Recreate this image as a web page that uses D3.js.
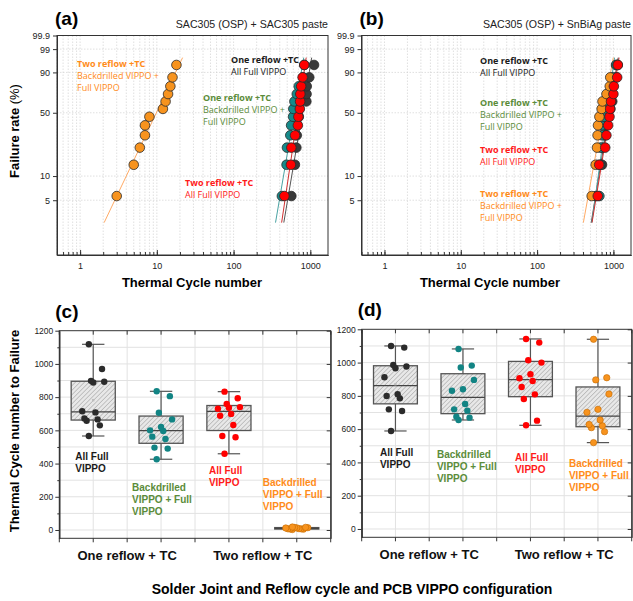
<!DOCTYPE html>
<html>
<head>
<meta charset="utf-8">
<script src="https://cdn.jsdelivr.net/npm/d3@7"></script>
<style>
  body { margin: 0; background: #fff; }
  svg text { font-family: "Liberation Sans", Arial, sans-serif; }
  .note { font-family: "Open Sans", sans-serif; font-size: 9px; }
</style>
</head>
<body>
<svg id="chart" width="633" height="601"></svg>
<script>
// ---------- data ----------
const groups = ['One reflow + TC', 'Two reflow + TC'];

// cycles to failure, SAC305 (OSP) + SAC305 paste -> panels (a) and (c)
const sacOneFull = [566, 630, 658, 666, 672, 708, 715, 888, 893, 898, 969, 1118];
const sacOneBack = [426, 490, 496, 548, 562, 596, 600, 620, 666, 706, 806, 835];
const sacTwoFull = [459, 558, 566, 632, 688, 699, 730, 736, 740, 759, 793, 833];
const sacTwoBack = [3, 5, 6, 7, 7, 8, 12, 13, 14, 15, 16, 18];

// cycles to failure, SAC305 (OSP) + SnBiAg paste -> panels (b) and (d)
const snOneFull = [589, 709, 719, 785, 799, 810, 912, 966, 976, 986, 1090, 1100];
const snOneBack = [655, 669, 675, 711, 719, 751, 831, 840, 896, 970, 982, 1082];
const snTwoFull = [623, 651, 781, 809, 853, 889, 906, 930, 1000, 1014, 1120, 1142];
const snTwoBack = [519, 585, 609, 620, 628, 655, 701, 719, 811, 896, 909, 1140];

const rateTicks = [5, 10, 50, 90, 99, 99.9];
const cycleTicks = [1, 10, 100, 1000];
const countTicks = [0, 200, 400, 600, 800, 1000, 1200];

// ---------- styles ----------
const look = {
  oneFull: { fill: '#3a3a3a', dot: '#2b2b2b', line: '#555555', text: '#1a1a1a' },
  oneBack: { fill: '#168a8a', dot: '#128484', line: '#4aa3a3', text: '#5b8c3a' },
  twoFull: { fill: '#ff0000', dot: '#ff0000', line: '#d03030', text: '#ff1a1a' },
  twoBack: { fill: '#f7931e', dot: '#f7931e', line: '#ffab66', text: '#ff8c1a' }
};

const sacSeries = [
  { key: 'oneFull', group: groups[0], values: sacOneFull },
  { key: 'oneBack', group: groups[0], values: sacOneBack },
  { key: 'twoFull', group: groups[1], values: sacTwoFull },
  { key: 'twoBack', group: groups[1], values: sacTwoBack }
];
const snSeries = [
  { key: 'oneFull', group: groups[0], values: snOneFull },
  { key: 'oneBack', group: groups[0], values: snOneBack },
  { key: 'twoFull', group: groups[1], values: snTwoFull },
  { key: 'twoBack', group: groups[1], values: snTwoBack }
];

const svg = d3.select('#chart');
const defs = svg.append('defs');

// hatch for the boxes
const hatch = defs.append('pattern')
  .attr('id', 'hatch')
  .attr('patternUnits', 'userSpaceOnUse')
  .attr('width', 3.2).attr('height', 3.2)
  .attr('patternTransform', 'rotate(45)');
hatch.append('rect').attr('width', 3.2).attr('height', 3.2).attr('fill', '#e8e8e8');
hatch.append('line')
  .attr('x1', 0).attr('y1', 0).attr('x2', 0).attr('y2', 3.2)
  .attr('stroke', '#939393').attr('stroke-width', 0.9);

const wb = p => Math.log(-Math.log(1 - p / 100));

function styleAxis(sel, size) {
  sel.select('.domain').attr('stroke', '#333').attr('stroke-width', 1);
  sel.selectAll('.tick line').attr('stroke', '#333');
  sel.selectAll('.tick text').attr('fill', '#222').attr('font-size', size);
}

// ---------- Weibull panels ----------
function weibullPanel(b, series, subtitle, letter, notes, titleX) {
  const x = d3.scaleLog().domain([0.5, 1700]).range([b.left, b.right]);
  const y = d3.scaleLinear().domain([wb(1), wb(99.9)]).range([b.bottom, b.top]);
  const g = svg.append('g');

  defs.append('clipPath').attr('id', 'clip' + letter)
    .append('rect')
    .attr('x', b.left).attr('y', b.top)
    .attr('width', b.right - b.left).attr('height', b.bottom - b.top);

  const minor = [];
  for (let k = -1; k <= 3; k++) {
    for (let m = 1; m <= 9; m++) {
      const v = m * Math.pow(10, k);
      if (v >= 0.5 && v <= 1700) minor.push(v);
    }
  }

  // grid
  g.append('g').selectAll('line').data(minor).join('line')
    .attr('x1', d => x(d)).attr('x2', d => x(d))
    .attr('y1', b.top).attr('y2', b.bottom)
    .attr('stroke', '#d2d2d2').attr('stroke-width', 0.7)
    .attr('stroke-dasharray', '1.5,1.5');
  g.append('g').selectAll('line').data(rateTicks.slice(0, -1)).join('line')
    .attr('x1', b.left).attr('x2', b.right)
    .attr('y1', d => y(wb(d))).attr('y2', d => y(wb(d)))
    .attr('stroke', '#d2d2d2').attr('stroke-width', 0.7)
    .attr('stroke-dasharray', '1.5,1.5');

  // axes
  const xMinor = g.append('g').attr('transform', `translate(0,${b.bottom})`)
    .call(d3.axisBottom(x).tickValues(minor).tickSizeInner(-3).tickSizeOuter(0).tickFormat(''));
  styleAxis(xMinor, 9);
  const xMajor = g.append('g').attr('transform', `translate(0,${b.bottom})`)
    .call(d3.axisBottom(x).tickValues(cycleTicks).tickSizeInner(-5).tickSizeOuter(0)
      .tickPadding(8).tickFormat(d3.format('d')));
  styleAxis(xMajor, 9);

  const yAx = g.append('g').attr('transform', `translate(${b.left},0)`)
    .call(d3.axisLeft(y).tickValues(rateTicks.map(wb)).tickSizeInner(4).tickSizeOuter(0)
      .tickPadding(3).tickFormat((d, i) => rateTicks[i]));
  styleAxis(yAx, 9);

  g.append('rect')
    .attr('x', b.left).attr('y', b.top)
    .attr('width', b.right - b.left).attr('height', b.bottom - b.top)
    .attr('fill', 'none').attr('stroke', '#333').attr('stroke-width', 1);

  // fit lines (median rank regression of ln t on ln(-ln(1-F)))
  const lines = g.append('g').attr('clip-path', `url(#clip${letter})`);
  const pts = g.append('g');
  series.forEach(s => {
    const v = s.values.slice().sort(d3.ascending);
    const n = v.length;
    const rows = v.map((t, i) => ({ t, w: Math.log(-Math.log(1 - (i + 0.7) / (n + 0.4))) }));
    const mw = d3.mean(rows, r => r.w);
    const mt = d3.mean(rows, r => Math.log(r.t));
    const slope = d3.sum(rows, r => (r.w - mw) * (Math.log(r.t) - mt)) / d3.sum(rows, r => (r.w - mw) ** 2);
    const ends = [2.6, 97.2].map(p => ({ w: wb(p), t: Math.exp(mt + slope * (wb(p) - mw)) }));
    lines.append('line')
      .attr('x1', x(ends[0].t)).attr('y1', y(ends[0].w))
      .attr('x2', x(ends[1].t)).attr('y2', y(ends[1].w))
      .attr('stroke', look[s.key].line).attr('stroke-width', 1);
    s.rows = rows;
  });
  ['oneFull', 'oneBack', 'twoBack', 'twoFull'].forEach(k => {
    const s = series.find(d => d.key === k);
    pts.append('g').selectAll('circle').data(s.rows).join('circle')
      .attr('cx', d => x(d.t)).attr('cy', d => y(d.w)).attr('r', 4.8)
      .attr('fill', look[k].fill).attr('stroke', '#2a2a2a').attr('stroke-width', 0.8);
  });

  // titles
  svg.append('text').attr('x', b.left - 2).attr('y', b.top - 11)
    .attr('font-size', 19).attr('font-weight', 'bold').text(`(${letter})`);
  svg.append('text').attr('x', b.right).attr('y', 28).attr('text-anchor', 'end')
    .attr('font-size', 10.6).attr('fill', '#222').text(subtitle);
  svg.append('text').attr('x', titleX).attr('y', 287).attr('text-anchor', 'middle')
    .attr('font-size', 13).attr('font-weight', 'bold').text('Thermal Cycle number');

  notes.forEach(nt => {
    const t = svg.append('text').attr('class', 'note').attr('fill', look[nt.key].text);
    nt.lines.forEach((ln, i) => {
      t.append('tspan').attr('x', nt.x).attr('y', nt.y + i * 12)
        .attr('font-weight', i === 0 ? 700 : 400).text(ln);
    });
  });
}

// ---------- box panels ----------
function boxPanel(b, series, letter, notes) {
  const y = d3.scaleLinear().domain([-50, 1200]).range([b.bottom, b.top]);
  const x = d3.scaleBand().domain(series.map(s => s.key)).range([b.left, b.right]);
  const grp = d3.scaleBand().domain(groups).range([b.left, b.right]);
  const bw = x.bandwidth();
  const g = svg.append('g');

  const vlines = [];
  series.forEach(s => { vlines.push(x(s.key)); vlines.push(x(s.key) + bw / 2); });
  vlines.push(b.right);
  const hlines = d3.range(0, 1200, 100);

  g.append('g').selectAll('line').data(hlines).join('line')
    .attr('x1', b.left).attr('x2', b.right)
    .attr('y1', d => y(d)).attr('y2', d => y(d))
    .attr('stroke', '#e2e2e2').attr('stroke-width', 1);
  g.append('g').selectAll('line').data(vlines).join('line')
    .attr('x1', d => d).attr('x2', d => d)
    .attr('y1', b.top).attr('y2', b.bottom)
    .attr('stroke', '#e2e2e2').attr('stroke-width', 1);

  // axes
  const yAx = g.append('g').attr('transform', `translate(${b.left},0)`)
    .call(d3.axisLeft(y).tickValues(countTicks).tickSizeInner(4).tickSizeOuter(0)
      .tickPadding(2).tickFormat(d3.format('d')));
  styleAxis(yAx, 8.5);
  const yMin = g.append('g').attr('transform', `translate(${b.left},0)`)
    .call(d3.axisLeft(y).tickValues(d3.range(100, 1200, 200)).tickSizeInner(2).tickSizeOuter(0).tickFormat(''));
  styleAxis(yMin, 8.5);
  const yR = g.append('g').attr('transform', `translate(${b.right},0)`)
    .call(d3.axisRight(y).tickValues(countTicks).tickSizeInner(-4).tickSizeOuter(0).tickFormat(''));
  styleAxis(yR, 8.5);
  g.append('g').selectAll('line').data(vlines).join('line')
    .attr('x1', d => d).attr('x2', d => d)
    .attr('y1', b.bottom).attr('y2', b.bottom + 4).attr('stroke', '#333');
  g.append('g').selectAll('line').data(vlines).join('line')
    .attr('x1', d => d).attr('x2', d => d)
    .attr('y1', b.top).attr('y2', b.top + 4).attr('stroke', '#333');

  const xAx = g.append('g').attr('transform', `translate(0,${b.bottom})`)
    .call(d3.axisBottom(grp).tickSize(0).tickPadding(12));
  xAx.select('.domain').remove();
  xAx.selectAll('.tick text').attr('font-size', 13).attr('font-weight', 'bold').attr('fill', '#111');

  g.append('rect')
    .attr('x', b.left).attr('y', b.top)
    .attr('width', b.right - b.left).attr('height', b.bottom - b.top)
    .attr('fill', 'none').attr('stroke', '#333').attr('stroke-width', 1);

  // boxes
  series.forEach(s => {
    const v = s.values.slice().sort(d3.ascending);
    const n = v.length;
    const q1 = d3.median(v.slice(0, Math.floor(n / 2)));
    const q3 = d3.median(v.slice(Math.ceil(n / 2)));
    const med = d3.median(v);
    const cx = x(s.key) + bw / 2;
    const boxW = bw * 0.65;
    const capW = bw * 0.33;
    const bg = g.append('g');
    bg.append('line').attr('x1', cx).attr('x2', cx).attr('y1', y(v[n - 1])).attr('y2', y(v[0]))
      .attr('stroke', '#555').attr('stroke-width', 1.2);
    [v[0], v[n - 1]].forEach(w => {
      bg.append('line').attr('x1', cx - capW / 2).attr('x2', cx + capW / 2)
        .attr('y1', y(w)).attr('y2', y(w)).attr('stroke', '#555').attr('stroke-width', 1.2);
    });
    bg.append('rect').attr('x', cx - boxW / 2).attr('width', boxW)
      .attr('y', y(q3)).attr('height', Math.max(y(q1) - y(q3), 1.5))
      .attr('fill', 'url(#hatch)').attr('stroke', '#555').attr('stroke-width', 1.3);
    bg.append('line').attr('x1', cx - boxW / 2).attr('x2', cx + boxW / 2)
      .attr('y1', y(med)).attr('y2', y(med)).attr('stroke', '#444').attr('stroke-width', 1.2);
    bg.append('rect').attr('x', cx - 1.2).attr('y', y(d3.mean(v)) - 1.2)
      .attr('width', 2.4).attr('height', 2.4).attr('fill', '#bdbdbd');

    bg.append('g').selectAll('circle').data(s.values).join('circle')
      .attr('cx', (d, i) => cx + (((i * 5 + 3) % 11) / 10 - 0.5) * 22)
      .attr('cy', d => y(d)).attr('r', 3.2)
      .attr('fill', look[s.key].dot)
      .attr('stroke', s.key === 'twoBack' ? '#c46a00' : 'none').attr('stroke-width', 0.6);
  });

  svg.append('text').attr('x', b.left - 4).attr('y', b.top - 13)
    .attr('font-size', 19).attr('font-weight', 'bold').text(`(${letter})`);

  notes.forEach(nt => {
    const t = svg.append('text').attr('font-size', 10).attr('font-weight', 'bold')
      .attr('fill', look[nt.key].text);
    nt.lines.forEach((ln, i) => {
      t.append('tspan').attr('x', x(nt.key) + bw / 2 + nt.dx).attr('y', y(nt.v) + i * 12).text(ln);
    });
  });
}

weibullPanel({ left: 57, right: 328, top: 35.5, bottom: 255 }, sacSeries,
  'SAC305 (OSP) + SAC305 paste', 'a', [
    { key: 'twoBack', lines: ['Two reflow +TC', 'Backdrilled VIPPO +', 'Full VIPPO'], x: 77, y: 67 },
    { key: 'oneFull', lines: ['One reflow +TC', 'All Full VIPPO'], x: 231, y: 63 },
    { key: 'oneBack', lines: ['One reflow +TC', 'Backdrilled VIPPO +', 'Full VIPPO'], x: 203, y: 101 },
    { key: 'twoFull', lines: ['Two reflow +TC', 'All Full VIPPO'], x: 185, y: 186 }
  ], 192);

weibullPanel({ left: 361.5, right: 631, top: 35.5, bottom: 255 }, snSeries,
  'SAC305 (OSP) + SnBiAg paste', 'b', [
    { key: 'oneFull', lines: ['One reflow +TC', 'All Full VIPPO'], x: 480, y: 64 },
    { key: 'oneBack', lines: ['One reflow +TC', 'Backdrilled VIPPO +', 'Full VIPPO'], x: 480, y: 106 },
    { key: 'twoFull', lines: ['Two reflow +TC', 'All Full VIPPO'], x: 480, y: 153 },
    { key: 'twoBack', lines: ['Two reflow +TC', 'Backdrilled VIPPO +', 'Full VIPPO'], x: 480, y: 197 }
  ], 490);

boxPanel({ left: 59.3, right: 330.7, top: 330.7, bottom: 538.3 }, sacSeries, 'c', [
  { key: 'oneFull', dx: -18, v: 421, lines: ['All Full', 'VIPPO'] },
  { key: 'oneBack', dx: -29, v: 235, lines: ['Backdrilled', 'VIPPO + Full', 'VIPPO'] },
  { key: 'twoFull', dx: -20, v: 337, lines: ['All Full', 'VIPPO'] },
  { key: 'twoBack', dx: -34, v: 267, lines: ['Backdrilled', 'VIPPO + Full', 'VIPPO'] }
]);

boxPanel({ left: 361.7, right: 631.7, top: 329.3, bottom: 537.3 }, snSeries, 'd', [
  { key: 'oneFull', dx: -15.5, v: 439, lines: ['All Full', 'VIPPO'] },
  { key: 'oneBack', dx: -26, v: 425, lines: ['Backdrilled', 'VIPPO + Full', 'VIPPO'] },
  { key: 'twoFull', dx: -15.5, v: 409, lines: ['All Full', 'VIPPO'] },
  { key: 'twoBack', dx: -29, v: 374, lines: ['Backdrilled', 'VIPPO + Full', 'VIPPO'] }
]);

// shared axis titles
const fy = svg.append('text').attr('transform', 'translate(19,131) rotate(-90)')
  .attr('text-anchor', 'middle').attr('font-size', 13);
fy.append('tspan').attr('font-weight', 'bold').text('Failure rate ');
fy.append('tspan').text('(%)');

svg.append('text').attr('transform', 'translate(19,431) rotate(-90)')
  .attr('text-anchor', 'middle').attr('font-size', 13).attr('font-weight', 'bold')
  .text('Thermal Cycle number to Failure');

svg.append('text').attr('x', 352).attr('y', 594).attr('text-anchor', 'middle')
  .attr('font-size', 14).attr('font-weight', 'bold')
  .text('Solder Joint and Reflow cycle and PCB VIPPO configuration');
</script>
</body>
</html>
